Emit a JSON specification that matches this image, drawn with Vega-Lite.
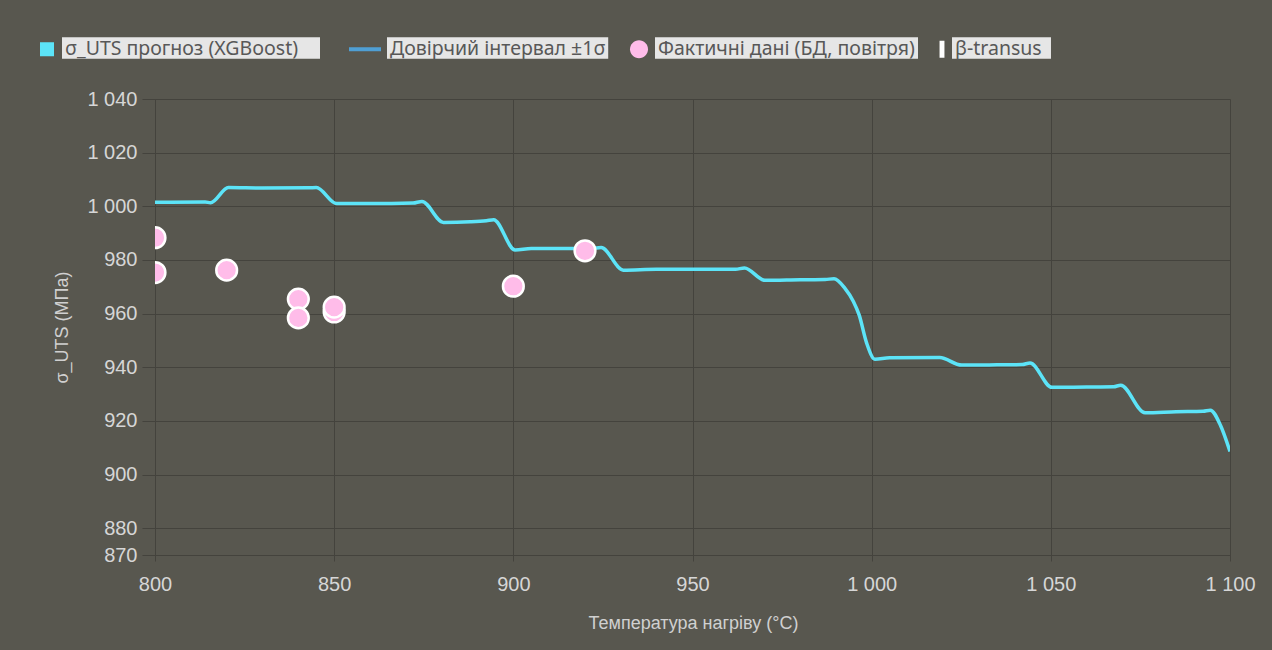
{
  "$schema": "https://vega.github.io/schema/vega-lite/v6.json",
  "width": 1075,
  "height": 456,
  "autosize": {"type": "none"},
  "padding": {"left": 155, "top": 99, "right": 42, "bottom": 95},
  "background": "#58574f",
  "datasets": {
    "curve": [
      {"T": 800, "uts": 1001.5},
      {"T": 814, "uts": 1001.6},
      {"T": 815.5, "uts": 1001.3},
      {"T": 820.5, "uts": 1007},
      {"T": 830, "uts": 1006.8},
      {"T": 843, "uts": 1006.9},
      {"T": 845, "uts": 1007},
      {"T": 850.7, "uts": 1001},
      {"T": 860, "uts": 1001},
      {"T": 872, "uts": 1001.2},
      {"T": 874.5, "uts": 1001.8},
      {"T": 880.5, "uts": 994},
      {"T": 888, "uts": 994.2},
      {"T": 892.5, "uts": 994.6},
      {"T": 894.5, "uts": 995},
      {"T": 900.5, "uts": 983.7},
      {"T": 905, "uts": 984.3},
      {"T": 922, "uts": 984.3},
      {"T": 924.5, "uts": 984.6},
      {"T": 930.7, "uts": 976.2},
      {"T": 940, "uts": 976.5},
      {"T": 962, "uts": 976.5},
      {"T": 964.5, "uts": 977},
      {"T": 970.2, "uts": 972.4},
      {"T": 980, "uts": 972.6},
      {"T": 987, "uts": 972.7},
      {"T": 989.5, "uts": 973},
      {"T": 992.5, "uts": 969.5},
      {"T": 994.9, "uts": 964.5},
      {"T": 996.5, "uts": 959.5},
      {"T": 998.6, "uts": 949},
      {"T": 1000.9, "uts": 943},
      {"T": 1005, "uts": 943.5},
      {"T": 1019, "uts": 943.6},
      {"T": 1025.1, "uts": 940.8},
      {"T": 1035, "uts": 940.9},
      {"T": 1042, "uts": 941},
      {"T": 1044.2, "uts": 941.6},
      {"T": 1050.3, "uts": 932.5},
      {"T": 1060, "uts": 932.6},
      {"T": 1067.5, "uts": 932.7},
      {"T": 1069.5, "uts": 933.3},
      {"T": 1076.3, "uts": 923},
      {"T": 1085, "uts": 923.4},
      {"T": 1092.5, "uts": 923.6},
      {"T": 1094.5, "uts": 924},
      {"T": 1097.3, "uts": 918.5},
      {"T": 1100, "uts": 908.6}
    ],
    "actual": [
      {"T": 800, "uts": 988.3},
      {"T": 800, "uts": 975.3},
      {"T": 820, "uts": 976.2},
      {"T": 840, "uts": 965.4},
      {"T": 840, "uts": 958.4},
      {"T": 850, "uts": 960.6},
      {"T": 850, "uts": 962.4},
      {"T": 900, "uts": 970.2},
      {"T": 920, "uts": 983.4}
    ]
  },
  "layer": [
    {
      "data": {"name": "curve"},
      "mark": {"type": "line", "interpolate": "monotone", "strokeWidth": 3.5, "clip": true},
      "encoding": {
        "x": {
          "field": "T", "type": "quantitative",
          "scale": {"domain": [800, 1100], "nice": false, "zero": false},
          "axis": {
            "values": [800, 850, 900, 950, 1000, 1050, 1100],
            "labelExpr": "replace(format(datum.value, ','), ',', ' ')",
            "labelFlush": false,
            "title": "Температура нагріву (°C)",
            "tickSize": 6,
            "labelPadding": 13,
            "titleX": 538,
            "titleY": 68,
            "titleBaseline": "middle",
            "titleAlign": "center"
          }
        },
        "y": {
          "field": "uts", "type": "quantitative",
          "scale": {"domain": [870, 1040], "nice": false, "zero": false},
          "axis": {
            "values": [870, 880, 900, 920, 940, 960, 980, 1000, 1020, 1040],
            "labelExpr": "replace(format(datum.value, ','), ',', ' ')",
            "title": "σ_UTS (МПа)",
            "tickSize": 13,
            "labelPadding": 5,
            "titleAngle": -90,
            "titleX": -93,
            "titleY": 228,
            "titleBaseline": "middle",
            "titleAlign": "center"
          }
        },
        "color": {
          "datum": "σ_UTS прогноз (XGBoost)",
          "type": "nominal",
          "scale": {
            "domain": ["σ_UTS прогноз (XGBoost)", "Довірчий інтервал ±1σ", "Фактичні дані (БД, повітря)", "β-transus"],
            "range": ["#5ce4f8", "#4f9fd4", "#ffbce9", "#ffffff"]
          },
          "legend": {
            "title": null,
            "orient": "none",
            "legendX": -93,
            "legendY": -62,
            "padding": 0,
            "direction": "horizontal",
            "columns": 4,
            "columnPadding": 21,
            "labelFont": "Noto Sans",
            "labelFontSize": 19.5,
            "labelColor": "#585858",
            "labelOffset": 3,
            "labelLimit": 400,
            "symbolSize": 1,
            "symbolStrokeWidth": 0,
            "encode": {
              "entries": {
                "update": {
                  "fill": {"value": "#e6e6e6"},
                  "height": {"value": 24}
                }
              },
              "symbols": {
                "update": {
                  "shape": {"signal": "datum.value === 'Довірчий інтервал ±1σ' ? 'M-1,0H1M14.7,0' : datum.value === 'Фактичні дані (БД, повітря)' ? 'M-1,0A1,1,0,1,1,1,0A1,1,0,1,1,-1,0ZM31.0,0' : datum.value === 'β-transus' ? 'M-0.35,-1.2H0.35V1.2H-0.35ZM15.57,0' : 'M-1,-1H1V1H-1ZM39.0,0'"},
                  "fill": {"signal": "datum.value === 'Довірчий інтервал ±1σ' ? 'transparent' : datum.value === 'Фактичні дані (БД, повітря)' ? '#ffbce9' : datum.value === 'β-transus' ? '#ffffff' : '#6ef6ff'"},
                  "stroke": {"signal": "datum.value === 'Довірчий інтервал ±1σ' ? '#4f9fd4' : 'transparent'"},
                  "strokeWidth": {"signal": "datum.value === 'Довірчий інтервал ±1σ' ? 4 : 0"},
                  "size": {"signal": "datum.value === 'Довірчий інтервал ±1σ' ? 1024 : datum.value === 'Фактичні дані (БД, повітря)' ? 324 : 196"},
                  "x": {"signal": "datum.value === 'Довірчий інтервал ±1σ' ? -22 : datum.value === 'β-transus' ? -10 : datum.value === 'Фактичні дані (БД, повітря)' ? -16 : -15"},
                  "y": {"value": 12},
                  "opacity": {"value": 1}
                }
              },
              "labels": {
                "update": {
                  "x": {"value": 3},
                  "y": {"value": 12},
                  "baseline": {"value": "middle"}
                }
              }
            }
          }
        }
      }
    },
    {
      "data": {"name": "actual"},
      "mark": {"type": "point", "filled": true, "size": 430, "stroke": "#ffffff", "strokeWidth": 2.5, "opacity": 1, "clip": true},
      "encoding": {
        "x": {"field": "T", "type": "quantitative"},
        "y": {"field": "uts", "type": "quantitative"},
        "color": {"datum": "Фактичні дані (БД, повітря)", "type": "nominal"}
      }
    }
  ],
  "config": {
    "view": {"stroke": null},
    "axis": {
      "gridColor": "#44433d",
      "gridWidth": 1,
      "domainColor": "#44433d",
      "tickColor": "#44433d",
      "labelFont": "Liberation Sans",
      "labelFontSize": 20,
      "labelColor": "#d6d6d6",
      "titleFont": "Liberation Sans",
      "titleFontSize": 18,
      "titleFontWeight": "normal",
      "titleColor": "#d0d0d0"
    }
  }
}
